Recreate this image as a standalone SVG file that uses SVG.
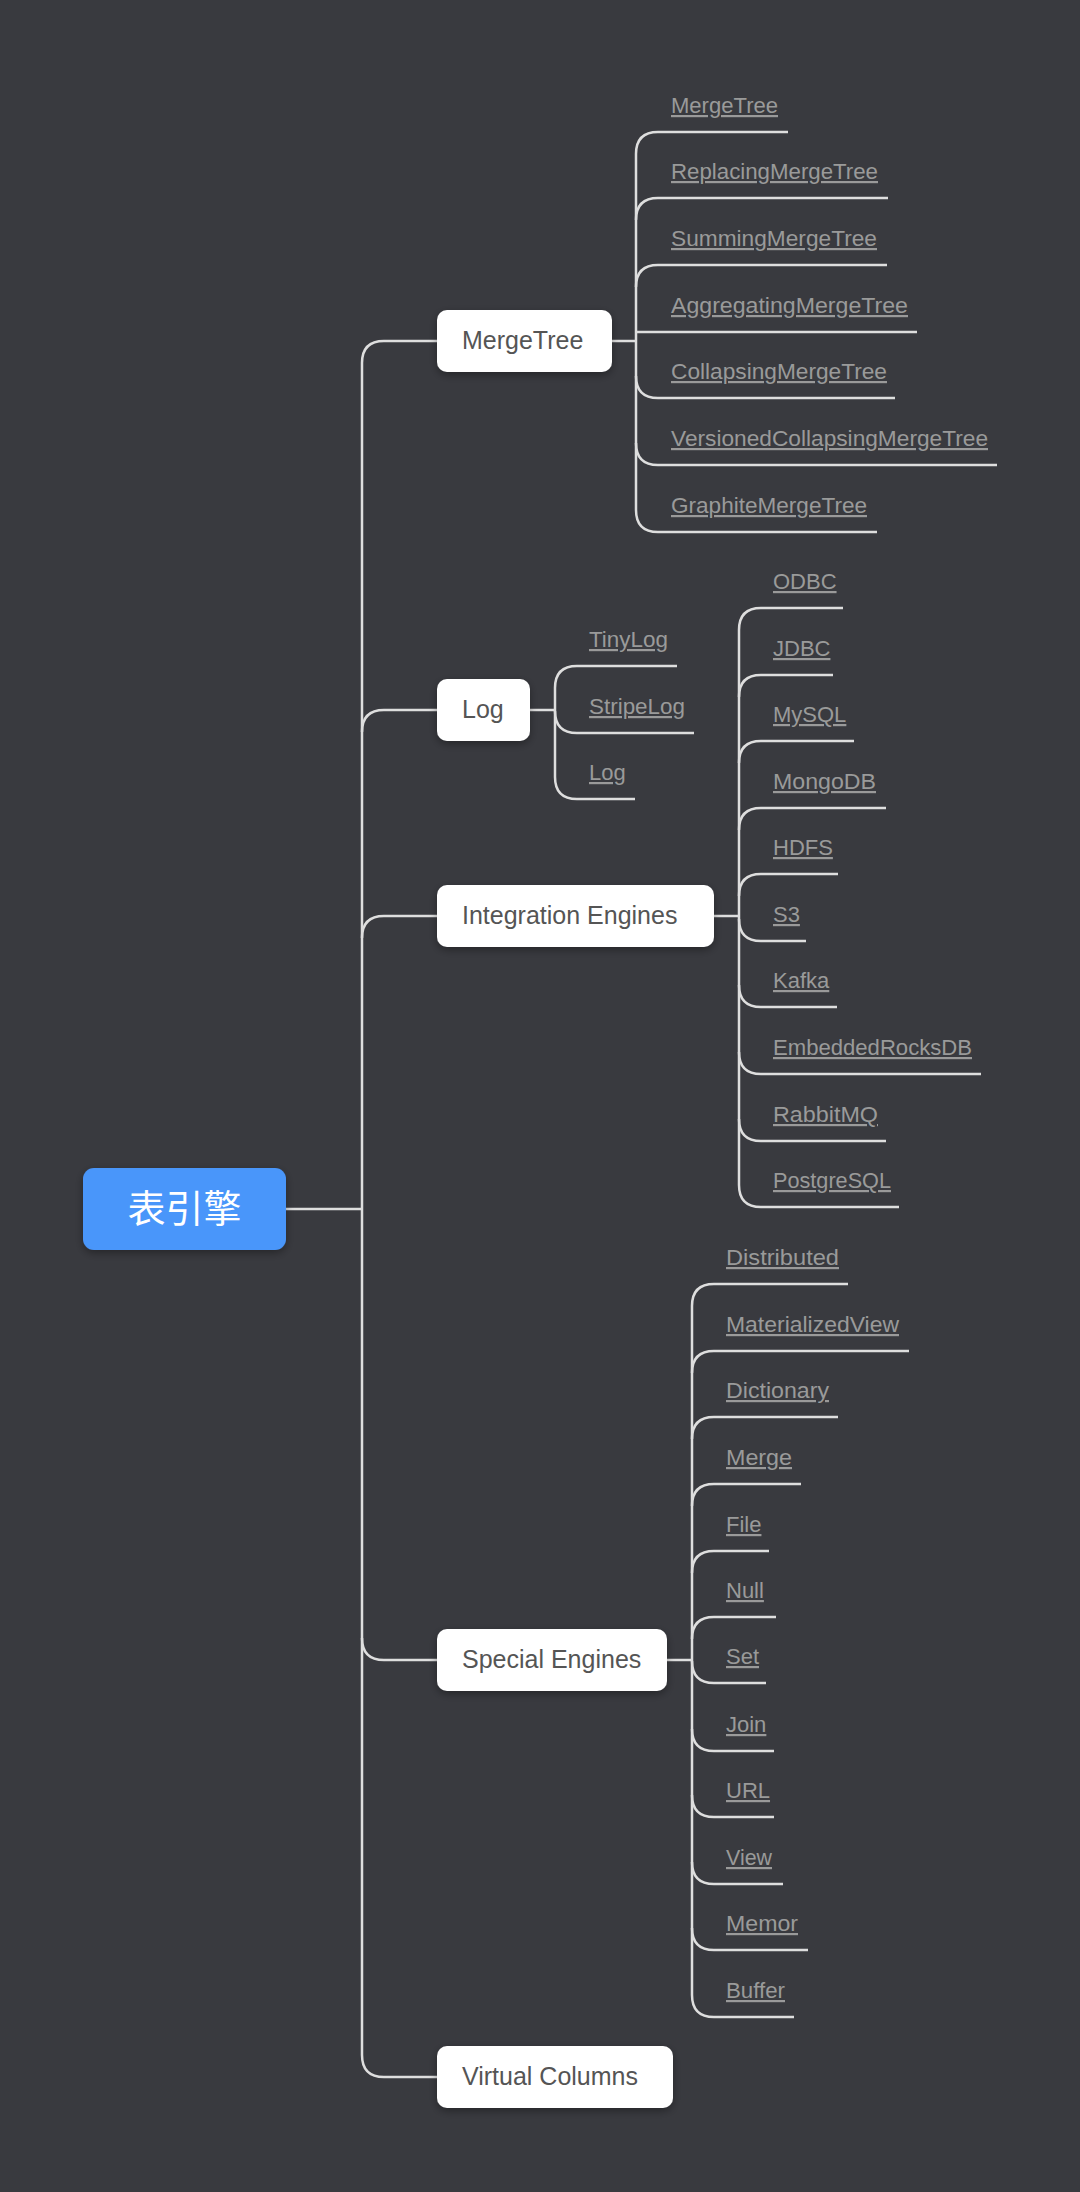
<svg xmlns="http://www.w3.org/2000/svg" width="1080" height="2192" viewBox="0 0 1080 2192">
<defs>
<filter id="sh" x="-20%" y="-30%" width="140%" height="170%">
<feDropShadow dx="0" dy="3" stdDeviation="4" flood-color="#000" flood-opacity="0.35"/>
</filter>
<style>
.ln{fill:none;stroke:#dedede;stroke-width:2.5;stroke-linecap:butt}
.box{fill:#ffffff;filter:url(#sh)}
.t1{font-family:"Liberation Sans",Arial,sans-serif;font-size:25px;fill:#555555}
.t2{font-family:"Liberation Sans",Arial,sans-serif;font-size:22px;fill:#9a9a9a;text-decoration:underline;text-underline-offset:4px}
.root{font-family:"Noto Sans CJK SC","Noto Sans",sans-serif;font-size:38px;fill:#ffffff}
</style>
</defs>
<rect x="0" y="0" width="1080" height="2192" fill="#393a3f"/>

<g id="connectors">
<path class="ln" d="M286,1209 L362,1209"/>
<path class="ln" d="M362,363 L362,2055"/>
<path class="ln" d="M362,363 Q362,341 384,341 L437,341"/>
<path class="ln" d="M362,732 Q362,710 384,710 L437,710"/>
<path class="ln" d="M362,938 Q362,916 384,916 L437,916"/>
<path class="ln" d="M362,1638 Q362,1660 384,1660 L437,1660"/>
<path class="ln" d="M362,2055 Q362,2077 384,2077 L437,2077"/>

<path class="ln" d="M612,341 L636,341"/>
<path class="ln" d="M636,154 L636,510"/>
<path class="ln" d="M636,154 Q636,132 658,132 L788,132"/>
<path class="ln" d="M636,220 Q636,198 658,198 L888,198"/>
<path class="ln" d="M636,287 Q636,265 658,265 L887,265"/>
<path class="ln" d="M636,332 L917,332"/>
<path class="ln" d="M636,376 Q636,398 658,398 L895,398"/>
<path class="ln" d="M636,443 Q636,465 658,465 L997,465"/>
<path class="ln" d="M636,510 Q636,532 658,532 L877,532"/>

<path class="ln" d="M530,710 L555,710"/>
<path class="ln" d="M555,688 L555,777"/>
<path class="ln" d="M555,688 Q555,666 577,666 L677,666"/>
<path class="ln" d="M555,711 Q555,733 577,733 L694,733"/>
<path class="ln" d="M555,777 Q555,799 577,799 L635,799"/>

<path class="ln" d="M714,916 L739,916"/>
<path class="ln" d="M739,630 L739,1185"/>
<path class="ln" d="M739,630 Q739,608 761,608 L843,608"/>
<path class="ln" d="M739,697 Q739,675 761,675 L833,675"/>
<path class="ln" d="M739,763 Q739,741 761,741 L854,741"/>
<path class="ln" d="M739,830 Q739,808 761,808 L886,808"/>
<path class="ln" d="M739,896 Q739,874 761,874 L838,874"/>
<path class="ln" d="M739,919 Q739,941 761,941 L806,941"/>
<path class="ln" d="M739,985 Q739,1007 761,1007 L837,1007"/>
<path class="ln" d="M739,1052 Q739,1074 761,1074 L981,1074"/>
<path class="ln" d="M739,1119 Q739,1141 761,1141 L886,1141"/>
<path class="ln" d="M739,1185 Q739,1207 761,1207 L899,1207"/>

<path class="ln" d="M667,1660 L692,1660"/>
<path class="ln" d="M692,1306 L692,1995"/>
<path class="ln" d="M692,1306 Q692,1284 714,1284 L848,1284"/>
<path class="ln" d="M692,1373 Q692,1351 714,1351 L909,1351"/>
<path class="ln" d="M692,1439 Q692,1417 714,1417 L838,1417"/>
<path class="ln" d="M692,1506 Q692,1484 714,1484 L801,1484"/>
<path class="ln" d="M692,1573 Q692,1551 714,1551 L769,1551"/>
<path class="ln" d="M692,1639 Q692,1617 714,1617 L776,1617"/>
<path class="ln" d="M692,1661 Q692,1683 714,1683 L766,1683"/>
<path class="ln" d="M692,1729 Q692,1751 714,1751 L774,1751"/>
<path class="ln" d="M692,1795 Q692,1817 714,1817 L774,1817"/>
<path class="ln" d="M692,1862 Q692,1884 714,1884 L783,1884"/>
<path class="ln" d="M692,1928 Q692,1950 714,1950 L808,1950"/>
<path class="ln" d="M692,1995 Q692,2017 714,2017 L794,2017"/>
</g>

<g id="root">
<rect x="83" y="1168" width="203" height="82" rx="11" fill="#4a96fa" filter="url(#sh)"/>
<text class="root" x="184.5" y="1222" text-anchor="middle">表引擎</text>
</g>

<g id="n-mergetree">
<rect class="box" x="437" y="310" width="175" height="62" rx="10"/>
<text class="t1" x="462" y="349">MergeTree</text>
</g>
<g id="n-log">
<rect class="box" x="437" y="679" width="93" height="62" rx="10"/>
<text class="t1" x="462" y="718">Log</text>
</g>
<g id="n-integration">
<rect class="box" x="437" y="885" width="277" height="62" rx="10"/>
<text class="t1" x="462" y="924">Integration Engines</text>
</g>
<g id="n-special">
<rect class="box" x="437" y="1629" width="230" height="62" rx="10"/>
<text class="t1" x="462" y="1668">Special Engines</text>
</g>
<g id="n-virtual">
<rect class="box" x="437" y="2046" width="236" height="62" rx="10"/>
<text class="t1" x="462" y="2085">Virtual Columns</text>
</g>

<g id="mergetree-children">
<text class="t2" x="671" y="113" textLength="107" lengthAdjust="spacingAndGlyphs">MergeTree</text>
<text class="t2" x="671" y="179" textLength="207" lengthAdjust="spacingAndGlyphs">ReplacingMergeTree</text>
<text class="t2" x="671" y="246" textLength="206" lengthAdjust="spacingAndGlyphs">SummingMergeTree</text>
<text class="t2" x="671" y="313" textLength="237" lengthAdjust="spacingAndGlyphs">AggregatingMergeTree</text>
<text class="t2" x="671" y="379" textLength="216" lengthAdjust="spacingAndGlyphs">CollapsingMergeTree</text>
<text class="t2" x="671" y="446" textLength="317" lengthAdjust="spacingAndGlyphs">VersionedCollapsingMergeTree</text>
<text class="t2" x="671" y="513" textLength="196" lengthAdjust="spacingAndGlyphs">GraphiteMergeTree</text>
</g>

<g id="log-children">
<text class="t2" x="589" y="647" textLength="79" lengthAdjust="spacingAndGlyphs">TinyLog</text>
<text class="t2" x="589" y="714" textLength="96" lengthAdjust="spacingAndGlyphs">StripeLog</text>
<text class="t2" x="589" y="780">Log</text>
</g>

<g id="integration-children">
<text class="t2" x="773" y="589">ODBC</text>
<text class="t2" x="773" y="656">JDBC</text>
<text class="t2" x="773" y="722">MySQL</text>
<text class="t2" x="773" y="789" textLength="103" lengthAdjust="spacingAndGlyphs">MongoDB</text>
<text class="t2" x="773" y="855">HDFS</text>
<text class="t2" x="773" y="922">S3</text>
<text class="t2" x="773" y="988">Kafka</text>
<text class="t2" x="773" y="1055" textLength="199" lengthAdjust="spacingAndGlyphs">EmbeddedRocksDB</text>
<text class="t2" x="773" y="1122" textLength="105" lengthAdjust="spacingAndGlyphs">RabbitMQ</text>
<text class="t2" x="773" y="1188" textLength="118" lengthAdjust="spacingAndGlyphs">PostgreSQL</text>
</g>

<g id="special-children">
<text class="t2" x="726" y="1265" textLength="113" lengthAdjust="spacingAndGlyphs">Distributed</text>
<text class="t2" x="726" y="1332" textLength="173" lengthAdjust="spacingAndGlyphs">MaterializedView</text>
<text class="t2" x="726" y="1398" textLength="103" lengthAdjust="spacingAndGlyphs">Dictionary</text>
<text class="t2" x="726" y="1465" textLength="66" lengthAdjust="spacingAndGlyphs">Merge</text>
<text class="t2" x="726" y="1532">File</text>
<text class="t2" x="726" y="1598">Null</text>
<text class="t2" x="726" y="1664">Set</text>
<text class="t2" x="726" y="1732">Join</text>
<text class="t2" x="726" y="1798">URL</text>
<text class="t2" x="726" y="1865" textLength="46" lengthAdjust="spacingAndGlyphs">View</text>
<text class="t2" x="726" y="1931" textLength="72" lengthAdjust="spacingAndGlyphs">Memor</text>
<text class="t2" x="726" y="1998" textLength="59" lengthAdjust="spacingAndGlyphs">Buffer</text>
</g>
</svg>
